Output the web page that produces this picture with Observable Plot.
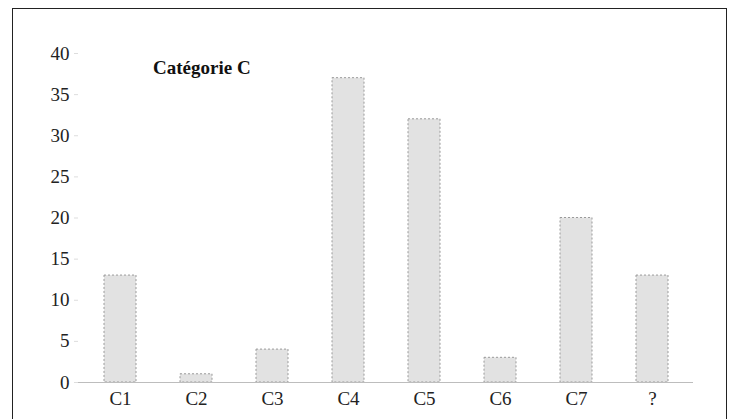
<!DOCTYPE html>
<html>
<head>
<meta charset="utf-8">
<script src="https://cdn.jsdelivr.net/npm/d3@7"></script>
<script src="https://cdn.jsdelivr.net/npm/@observablehq/plot@0.6"></script>
<style>
  html, body { margin: 0; padding: 0; background: #fff; }
  #wrap { position: relative; width: 733px; height: 419px; overflow: hidden; }
  #frame { position: absolute; left: 12px; top: 8px; width: 715px; height: 430px; border: 1.5px solid #222; box-sizing: border-box; }
  #title { position: absolute; left: 153px; top: 57px; font-family: "Liberation Serif", serif; font-weight: bold; font-size: 19px; line-height: 22px; color: #111; }
  svg { position: absolute; left: 0; top: 0; }
</style>
</head>
<body>
<div id="wrap"><div id="frame"></div><div id="title">Catégorie C</div></div>
<script>
const categories = ["C1", "C2", "C3", "C4", "C5", "C6", "C7", "?"];
const values = [13, 1, 4, 37, 32, 3, 20, 13];
const yTicks = [0, 5, 10, 15, 20, 25, 30, 35, 40];

const data = categories.map((c, i) => ({category: c, value: values[i]}));

const chart = Plot.plot({
  width: 733,
  height: 419,
  marginLeft: 78,
  marginRight: 40,
  marginTop: 53,
  marginBottom: 37,
  style: {fontFamily: "Liberation Serif, serif", fontSize: "19px", color: "#222", background: "transparent"},
  x: {domain: categories, paddingInner: 0.58, paddingOuter: 0.29, label: null},
  y: {domain: [0, 40], label: null},
  marks: [
    Plot.barY(data, {x: "category", y: "value", fill: "#e2e2e2", stroke: "#9a9a9a", strokeWidth: 1, strokeDasharray: "2,2"}),
    Plot.ruleY([0], {stroke: "#bdbdbd", strokeWidth: 1}),
    Plot.axisY({ticks: yTicks, tickSize: 4, tickPadding: 5, stroke: "#ddd", label: null, fontSize: 19}),
    Plot.axisX({tickSize: 0, tickPadding: 9, label: null, fontSize: 19})
  ]
});
document.getElementById("wrap").appendChild(chart);
</script>
</body>
</html>
